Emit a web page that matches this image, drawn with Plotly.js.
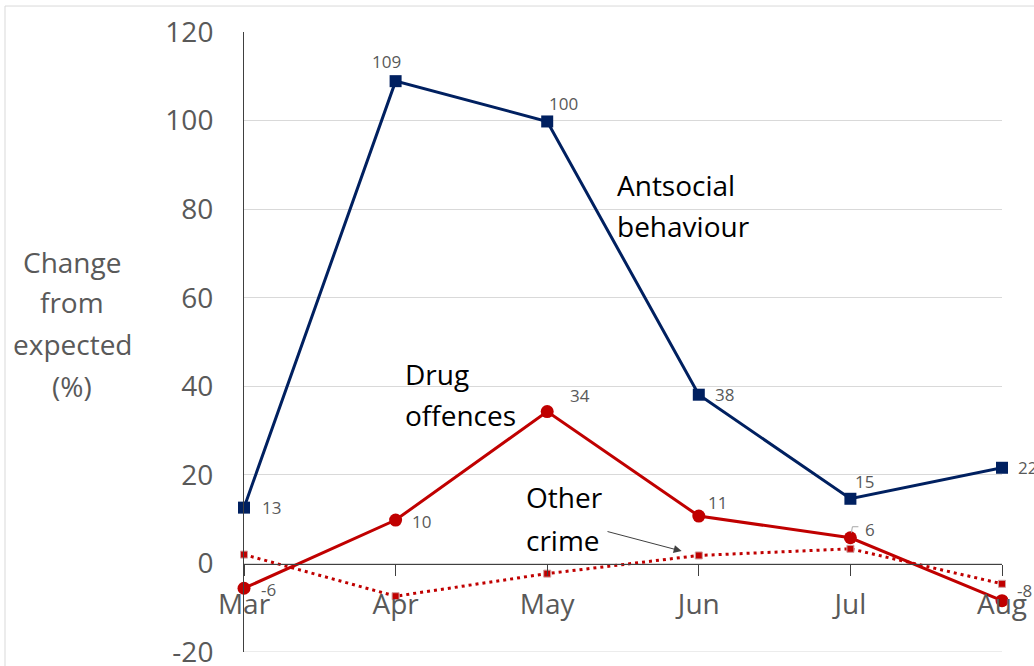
<!DOCTYPE html>
<html>
<head>
<meta charset="utf-8">
<script src="https://cdn.plot.ly/plotly-3.0.1.min.js"></script>
<style>html,body{margin:0;padding:0;background:#fff;}#chart{width:1034px;height:666px;}</style>
</head>
<body>
<div id="chart"></div>
<script>
const months = ["Mar", "Apr", "May", "Jun", "Jul", "Aug"];
const antisocial = [12.6, 108.9, 99.8, 38.1, 14.6, 21.6];
const antisocialLabels = ["13", "109", "100", "38", "15", "22"];
const drugs = [-5.6, 9.8, 34.3, 10.7, 5.8, -8.4];
const drugLabels = ["-6", "10", "34", "11", "6", "-8"];
const otherCrime = [2.0, -7.4, -2.3, 1.8, 3.3, -4.6];
const yTicks = [-20, 0, 20, 40, 60, 80, 100, 120];

// label placement: pixel offsets [right, down] of the label's left edge / centre from its point
const antisocialLabelShift = [[16, 0], [-26, -20], [0, -18], [14, 0], [3, -17], [14, 0]];
const drugLabelShift = [[15, 1], [14, 1], [21, -16], [7, -14], [13, -8], [13, -10]];
// drug points whose labels carry a small leader line
const drugLeaderIdx = [4, 5];

const FONT = "'Open Sans', 'Liberation Sans', sans-serif";
const GREY = "#595959";
const NAVY = "#002060";
const RED = "#C00000";

const traces = [
  {
    x: months, y: otherCrime, type: "scatter", mode: "lines+markers",
    line: {color: RED, width: 3, dash: "3px,4px"},
    marker: {symbol: "square", size: 7, color: RED, line: {color: "#d0a0a0", width: 1}},
    cliponaxis: false, hoverinfo: "skip"
  },
  {
    x: months, y: drugs, type: "scatter", mode: "lines+markers",
    line: {color: RED, width: 3},
    marker: {symbol: "circle", size: 13, color: RED},
    cliponaxis: false, hoverinfo: "skip"
  },
  {
    x: months, y: antisocial, type: "scatter", mode: "lines+markers",
    line: {color: NAVY, width: 3},
    marker: {symbol: "square", size: 12, color: NAVY},
    cliponaxis: false, hoverinfo: "skip"
  }
];

function lineAnn(text, x, y, xanchor, color, xref, yref) {
  return {text: text, x: x, y: y, xref: xref || "x", yref: yref || "y",
    xanchor: xanchor, yanchor: "middle", showarrow: false,
    font: {family: FONT, size: 28, color: color}};
}

function dataLabels(values, labels, shifts) {
  return values.map((v, i) => ({
    text: labels[i], x: months[i], y: v, xref: "x", yref: "y",
    xanchor: "left", yanchor: "middle", showarrow: false,
    xshift: shifts[i][0], yshift: -shifts[i][1],
    font: {family: FONT, size: 17, color: GREY}
  }));
}

const TX = (72 - 244) / 758;
const annotations = [
  lineAnn("Antsocial", 2.447, 85.5, "left", "#000"),
  lineAnn("behaviour", 2.447, 76.3, "left", "#000"),
  lineAnn("Drug", 1.049, 42.7, "left", "#000"),
  lineAnn("offences", 1.049, 33.6, "left", "#000"),
  lineAnn("Other", 1.847, 14.9, "left", "#000"),
  lineAnn("crime", 1.847, 5.4, "left", "#000"),
  lineAnn("Change", TX, (652 - 262) / 620, "center", GREY, "paper", "paper"),
  lineAnn("from", TX, (652 - 302) / 620, "center", GREY, "paper", "paper"),
  lineAnn("expected", TX, (652 - 344) / 620, "center", GREY, "paper", "paper"),
  lineAnn("(%)", TX, (652 - 386) / 620, "center", GREY, "paper", "paper"),
  {x: 2.887, y: 2.78, ax: 2.388, ay: 7.29, xref: "x", yref: "y", axref: "x", ayref: "y",
   showarrow: true, arrowhead: 2, arrowsize: 1.6, arrowwidth: 1, arrowcolor: "#404040", text: ""}
].concat(dataLabels(antisocial, antisocialLabels, antisocialLabelShift))
 .concat(dataLabels(drugs, drugLabels, drugLabelShift));

const leaderShapes = drugLeaderIdx.map(i => ({
  type: "path", xref: "x", yref: "y", xsizemode: "pixel", ysizemode: "pixel",
  xanchor: i, yanchor: drugs[i],
  path: "M1,5 L2,11 L8,11",
  line: {color: "#a6a6a6", width: 1}, layer: "above"
}));

const layout = {
  width: 1034, height: 666,
  margin: {l: 244, r: 32, t: 32, b: 14},
  paper_bgcolor: "#fff", plot_bgcolor: "#fff",
  showlegend: false,
  xaxis: {
    type: "category", range: [0, 5], anchor: "free", position: 88 / 620,
    showgrid: false, zeroline: false,
    showline: true, linecolor: "#404040", linewidth: 1,
    ticks: "outside", ticklen: 11, tickcolor: "#404040", tickwidth: 1,
    tickfont: {family: FONT, size: 28, color: GREY}, ticklabelstandoff: 4,
    fixedrange: true
  },
  yaxis: {
    range: [-20, 120], tickvals: yTicks, ticktext: yTicks.map(String),
    showgrid: true, gridcolor: "#d9d9d9", gridwidth: 1, zeroline: false,
    showline: true, linecolor: "#404040", linewidth: 1,
    ticks: "", tickfont: {family: FONT, size: 28, color: GREY}, ticklabelstandoff: 24,
    ticklabeloverflow: "allow",
    fixedrange: true
  },
  annotations: annotations,
  shapes: [
    {type: "line", xref: "paper", yref: "y", x0: 0, x1: 1, y0: -20, y1: -20, layer: "below",
     line: {color: "#d9d9d9", width: 1}},
    {type: "line", xref: "paper", yref: "paper", x0: -0.3153, x1: -0.3153, y0: -0.1, y1: 1.0419,
     line: {color: "#d9d9d9", width: 1}},
    {type: "line", xref: "paper", yref: "paper", x0: -0.3153, x1: 1.2, y0: 1.0419, y1: 1.0419,
     line: {color: "#d9d9d9", width: 1}}
  ].concat(leaderShapes)
};

Plotly.newPlot("chart", traces, layout, {displayModeBar: false, staticPlot: true});
</script>
</body>
</html>
